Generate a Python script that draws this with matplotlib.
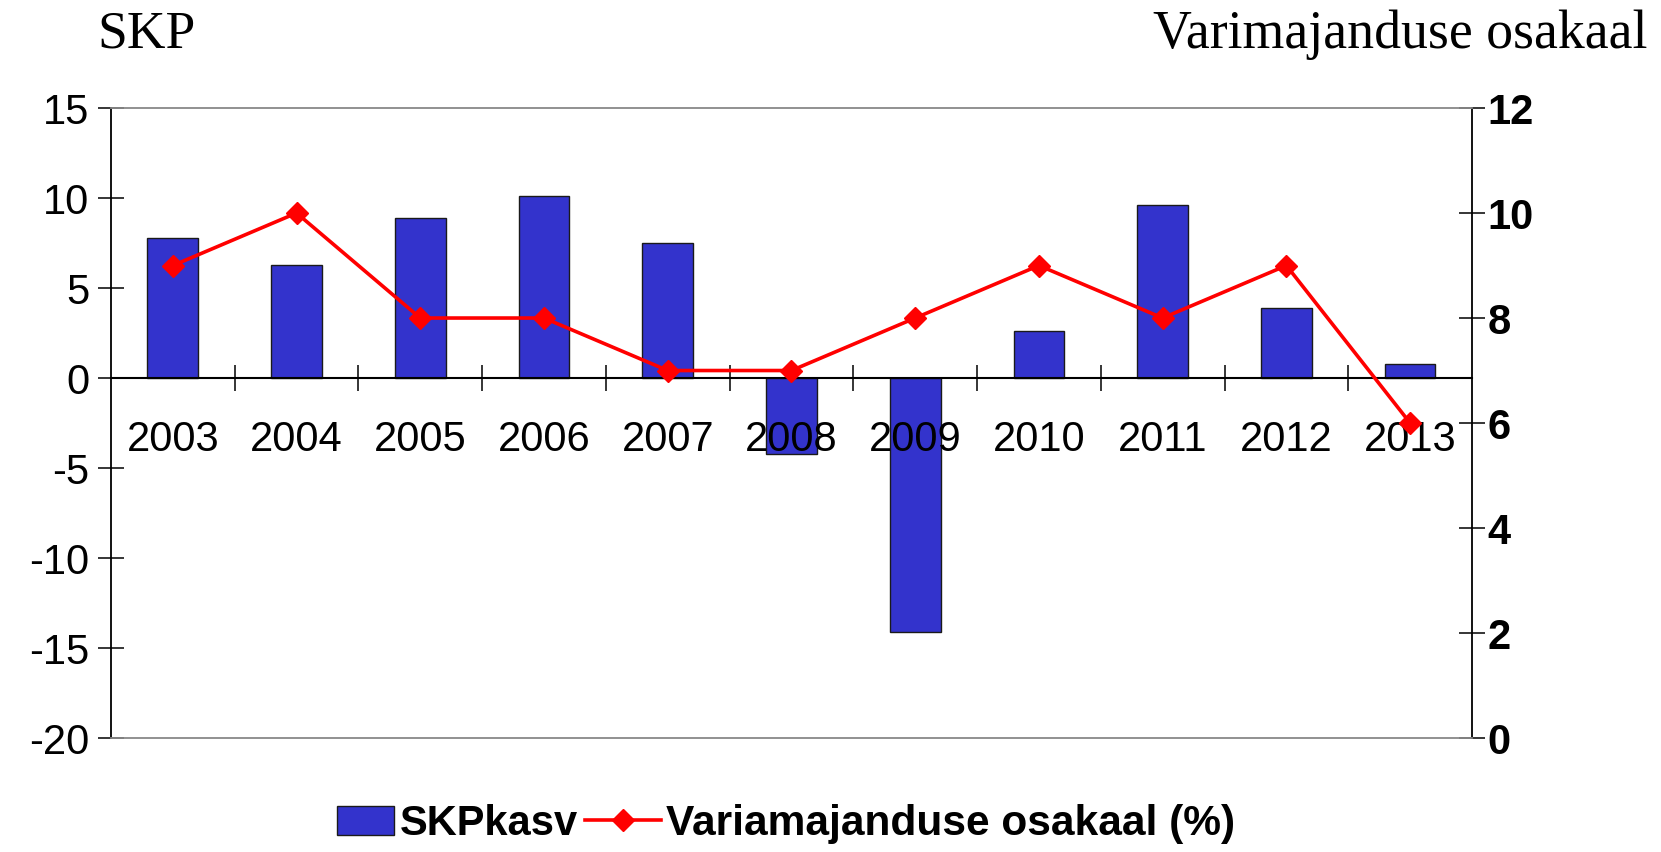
import numpy as np
from matplotlib import pyplot as plt
from matplotlib.ticker import FixedLocator

'''Data read off the chart'''
years = ['2003', '2004', '2005', '2006', '2007', '2008', '2009', '2010', '2011', '2012', '2013']
skp_kasv = [7.8, 6.3, 8.9, 10.1, 7.5, -4.2, -14.1, 2.6, 9.6, 3.9, 0.8]
vari_osakaal = [9, 10, 8, 8, 7, 7, 8, 9, 8, 9, 6]

plt.rcParams['font.family'] = ['Liberation Sans', 'DejaVu Sans']
plt.rcParams['axes.unicode_minus'] = False

fig = plt.figure(figsize=(16.61, 8.52), dpi=100)
ax = fig.add_axes([0.0668, 0.1338, 0.8194, 0.7394])
ax.set_axisbelow(False)  # year labels drawn over the bars
ax2 = ax.twinx()

x = np.arange(len(years))
bars = ax.bar(x, skp_kasv, width=0.41, color='#3333CC', edgecolor='#1a1a1a',
              linewidth=1.0, label='SKPkasv', zorder=2)
line, = ax2.plot(x, vari_osakaal, color='#FF0000', linewidth=2.6, marker='D',
                 markersize=11.5, label='Variamajanduse osakaal (%)', zorder=3)

ax.set_xlim(-0.5, len(years) - 0.5)
ax.set_ylim(-20, 15)
ax2.set_ylim(0, 12)
ax.set_yticks(np.arange(-20, 16, 5))
ax2.set_yticks(np.arange(0, 13, 2))

# spines: zero line black, frame top/bottom gray
ax.spines['bottom'].set_position(('data', 0))
ax.spines['bottom'].set_color('black')
ax.spines['bottom'].set_linewidth(1.5)
ax.spines['top'].set_visible(False)
ax.spines['right'].set_visible(False)
ax.spines['left'].set_linewidth(1.3)
ax2.spines['top'].set_color('#888888')
ax2.spines['bottom'].set_color('#888888')
ax2.spines['top'].set_linewidth(1.3)
ax2.spines['bottom'].set_linewidth(1.3)
ax2.spines['left'].set_visible(False)
ax2.spines['right'].set_linewidth(1.3)

# category labels centred, ticks on category boundaries
ax.set_xticks(x)
ax.set_xticklabels(years)
ax.xaxis.set_minor_locator(FixedLocator(np.arange(0.5, len(years) - 1, 1)))
ax.tick_params(axis='x', which='major', length=0, pad=30, labelsize=30)
ax.tick_params(axis='x', which='minor', direction='inout', length=18.5, width=1.1)
ax.tick_params(axis='y', direction='inout', length=18.5, width=1.1, pad=6.5, labelsize=30)
ax2.tick_params(axis='y', direction='inout', length=18.5, width=1.1, pad=2, labelsize=30)
for t in ax2.get_yticklabels():
    t.set_fontweight('bold')

fig.text(0.0584, 0.944, 'SKP', family='Liberation Serif', fontsize=38.5, va='baseline', ha='left')
fig.text(0.9916, 0.944, 'Varimajanduse osakaal', family='Liberation Serif', fontsize=38.7,
         va='baseline', ha='right')

# two legends side by side so the box and the line get their own handle widths
leg_font = {'weight': 'bold', 'size': 30}
leg1 = fig.legend([bars], ['SKPkasv'], loc='center left', bbox_to_anchor=(0.203, 0.033),
                  frameon=False, prop=leg_font, handlelength=1.36, handletextpad=0.15,
                  borderpad=0, borderaxespad=0)
leg2 = fig.legend([line], ['Variamajanduse osakaal (%)'], loc='center left',
                  bbox_to_anchor=(0.352, 0.033), frameon=False,
                  prop={'weight': 'bold', 'size': 30.6},
                  handlelength=1.8, handletextpad=0.12, borderpad=0, borderaxespad=0)

plt.savefig('out.png', dpi=100)
